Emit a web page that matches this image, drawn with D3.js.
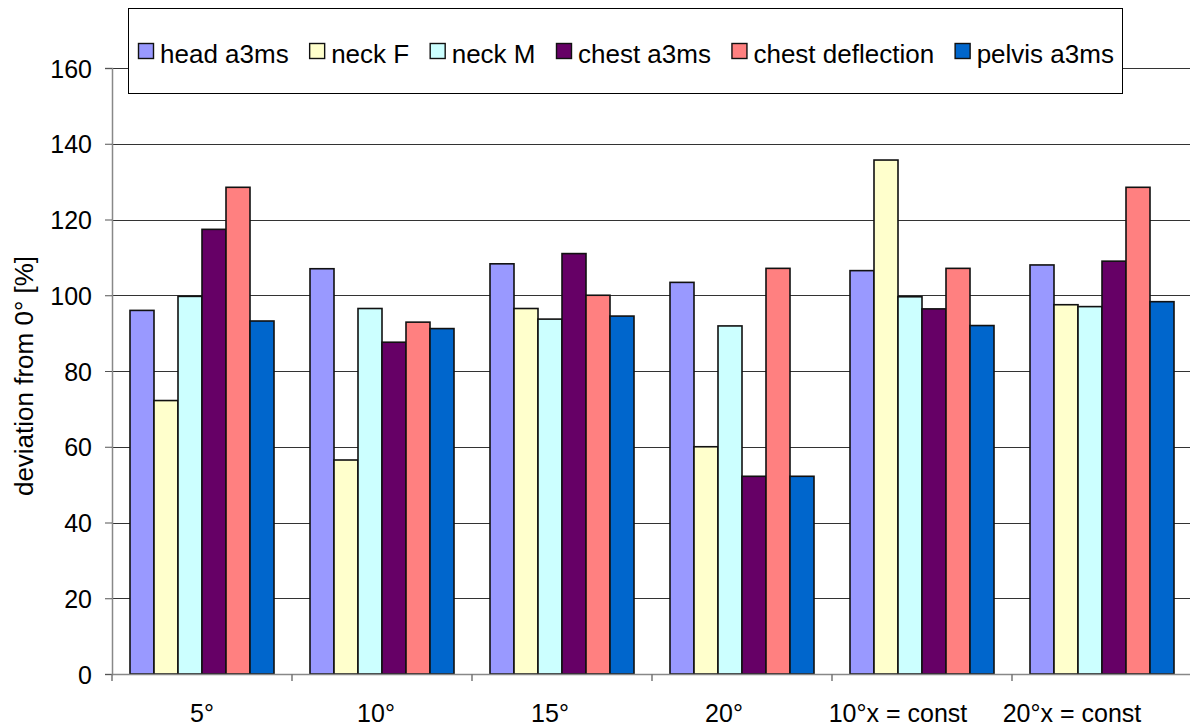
<!DOCTYPE html>
<html>
<head>
<meta charset="utf-8">
<script src="https://cdn.jsdelivr.net/npm/d3@7"></script>
<style>
  html, body { margin: 0; padding: 0; background: #fff; }
  svg { display: block; font-family: "Liberation Sans", Arial, sans-serif; }
</style>
</head>
<body>
<svg id="chart" width="1190" height="728"></svg>
<script>
// ---- data ----
const categories = ["5°", "10°", "15°", "20°", "10°x = const", "20°x = const"];
const seriesNames = ["head a3ms", "neck F", "neck M", "chest a3ms", "chest deflection", "pelvis a3ms"];
const seriesColors = ["#9999FF", "#FFFFCC", "#CCFFFF", "#660066", "#FF8080", "#0066CC"];
const headA3ms      = [96.0, 107.0, 108.3, 103.4, 106.5, 108.0];
const neckF         = [72.2, 56.5, 96.5, 60.0, 135.7, 97.5];
const neckM         = [99.7, 96.5, 93.7, 91.9, 99.6, 97.0];
const chestA3ms     = [117.4, 87.6, 111.0, 52.2, 96.4, 109.0];
const chestDefl     = [128.5, 92.9, 100.0, 107.1, 107.1, 128.5];
const pelvisA3ms    = [93.2, 91.2, 94.5, 52.2, 92.0, 98.3];
const seriesValues = [headA3ms, neckF, neckM, chestA3ms, chestDefl, pelvisA3ms];
const yTicks = [0, 20, 40, 60, 80, 100, 120, 140, 160];

// ---- layout ----
const svg = d3.select("#chart");
const pLeft = 112, pRight = 1192, pTop = 68, pBottom = 674;

const x0 = d3.scaleBand().domain(categories).range([pLeft, pRight]).padding(0);
const bw = x0.bandwidth();
const gapRatio = 1.5; // Excel gap width 150%
const groupW = bw * seriesNames.length / (seriesNames.length + gapRatio);
const x1 = d3.scaleBand().domain(seriesNames)
  .range([(bw - groupW) / 2, (bw + groupW) / 2]).padding(0);
const y = d3.scaleLinear().domain([0, 160]).range([pBottom, pTop]);
// category label positions (slightly tighter spacing as in the source)
const xl = d3.scalePoint().domain(categories).range([pLeft + bw / 2, pRight - bw / 2 - 30]);

// gridlines
svg.append("g").selectAll("line").data(yTicks.filter(d => d > 0)).join("line")
  .attr("x1", pLeft).attr("x2", 1190)
  .attr("y1", d => Math.round(y(d)) + 0.5).attr("y2", d => Math.round(y(d)) + 0.5)
  .attr("stroke", "#333").attr("stroke-width", 1);

// bars
const groups = svg.append("g").selectAll("g").data(categories).join("g")
  .attr("transform", c => `translate(${x0(c)},0)`);
groups.selectAll("rect").data((c, ci) => seriesNames.map((s, si) => ({ s, si, v: seriesValues[si][ci] })))
  .join("rect")
  .attr("x", d => x1(d.s))
  .attr("width", x1.bandwidth())
  .attr("y", d => y(d.v))
  .attr("height", d => y(0) - y(d.v))
  .attr("fill", d => seriesColors[d.si])
  .attr("stroke", "#111").attr("stroke-width", 1.6);

// y axis
const yAxis = svg.append("g").attr("transform", `translate(${pLeft},0)`)
  .call(d3.axisLeft(y).tickValues(yTicks).tickSize(7).tickPadding(13));
yAxis.select(".domain").attr("stroke", "#888").attr("stroke-width", 1.5);
yAxis.selectAll(".tick line").attr("stroke", "#555");
yAxis.selectAll("text").attr("font-size", 25).attr("fill", "#000")
  .attr("font-family", "Liberation Sans, Arial, sans-serif").attr("dy", "0.36em");

// x axis line with ticks at category boundaries
svg.append("line").attr("x1", pLeft).attr("x2", 1190).attr("y1", pBottom + 0.5).attr("y2", pBottom + 0.5)
  .attr("stroke", "#888").attr("stroke-width", 1.5);
svg.append("g").selectAll("line").data(categories).join("line")
  .attr("x1", c => x0(c)).attr("x2", c => x0(c))
  .attr("y1", pBottom).attr("y2", pBottom + 7)
  .attr("stroke", "#777").attr("stroke-width", 1.5);
svg.append("g").selectAll("text").data(categories).join("text")
  .attr("x", c => xl(c)).attr("y", 722)
  .attr("text-anchor", "middle").attr("font-size", 25).attr("fill", "#000")
  .text(c => c);

// y title
svg.append("text")
  .attr("transform", `translate(33,${(pTop + pBottom) / 2 + 5}) rotate(-90)`)
  .attr("text-anchor", "middle").attr("font-size", 26).attr("fill", "#000")
  .text("deviation from 0° [%]");

// legend
const legend = svg.append("g");
legend.append("rect").attr("x", 128.5).attr("y", 8.5).attr("width", 994).attr("height", 85)
  .attr("fill", "#fff").attr("stroke", "#000").attr("stroke-width", 1);
let lx = 138;
seriesNames.forEach((s, i) => {
  const g = legend.append("g");
  g.append("rect").attr("x", lx + 0.5).attr("y", 43.5).attr("width", 15).attr("height", 15)
    .attr("fill", seriesColors[i]).attr("stroke", "#111").attr("stroke-width", 1.4);
  const t = g.append("text").attr("x", lx + 22).attr("y", 63)
    .attr("font-size", 26).attr("fill", "#000").text(s);
  lx += 22 + t.node().getComputedTextLength() + 20.5;
});
</script>
</body>
</html>
